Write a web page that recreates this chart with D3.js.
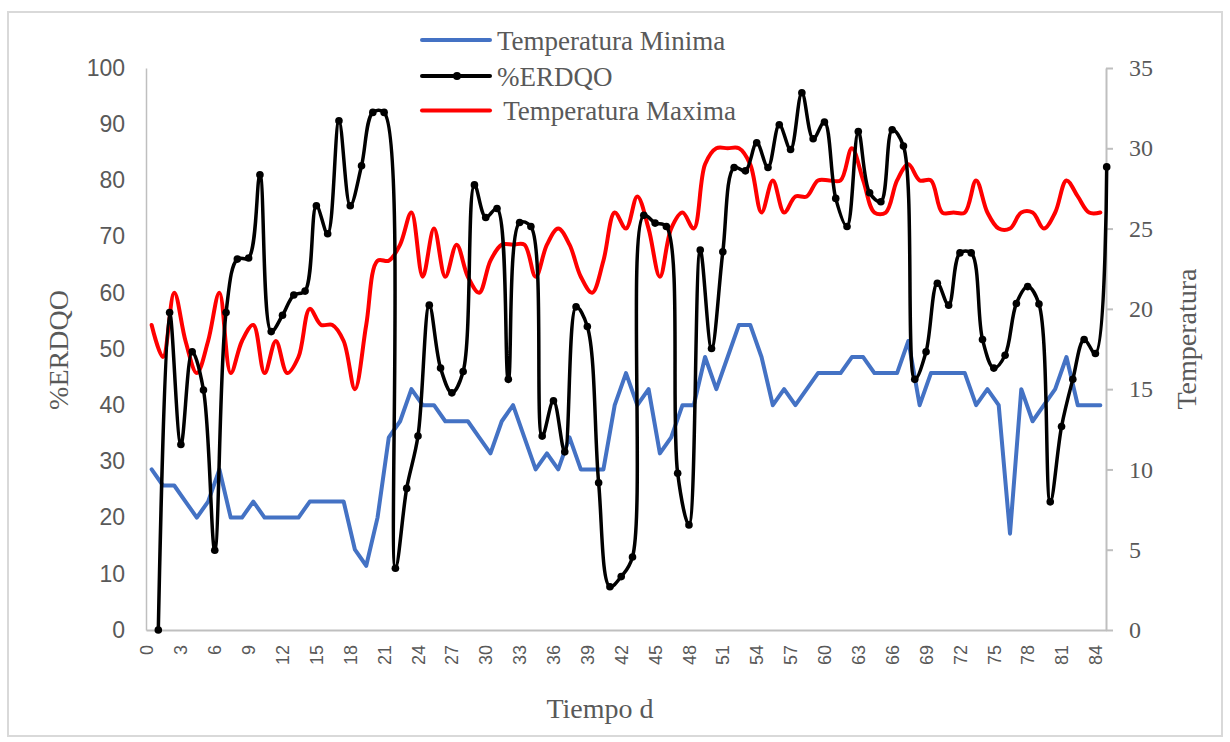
<!DOCTYPE html>
<html><head><meta charset="utf-8">
<script src="https://cdn.jsdelivr.net/npm/d3@7"></script>
<style>body{margin:0;background:#fff} svg{display:block}</style>
</head><body>
<svg id="c" width="1230" height="742"></svg>
<script>
const days = [0,1,2,3,4,5,6,7,8,9,10,11,12,13,14,15,16,17,18,19,20,21,22,23,24,25,26,27,28,29,30,31,32,33,34,35,36,37,38,39,40,41,42,43,44,45,46,47,48,49,50,51,52,53,54,55,56,57,58,59,60,61,62,63,64,65,66,67,68,69,70,71,72,73,74,75,76,77,78,79,80,81,82,83,84];
const xTickDays = [0,3,6,9,12,15,18,21,24,27,30,33,36,39,42,45,48,51,54,57,60,63,66,69,72,75,78,81,84];
const leftTicks = [0,10,20,30,40,50,60,70,80,90,100];
const rightTicks = [0,5,10,15,20,25,30,35];

const tempMin = [10,9,9,8,7,8,10,7,7,8, 7,7,7,7,8,8,8,8,5,4, 7,12,13,15,14,14,13,13,13,12, 11,13,14,12,10,11,10,12,10,10, 10,14,16,14,15,11,12,14,14,17, 15,17,19,19,17,14,15,14,15,16, 16,16,17,17,16,16,16,18,14,16, 16,16,16,14,15,14,6,15,13,14, 15,17,14,14,14];
const tempMax = [19,17,21,18,16,18,21,16,18,19, 16,18,16,17,20,19,19,18,15,19, 23,23,24,26,22,25,22,24,22,21, 23,24,24,24,22,24,25,24,22,21, 23,26,25,27,25,22,25,26,25,29, 30,30,30,29,26,28,26,27,27,28, 28,28,30,28,26,26,28,29,28,28, 26,26,26,28,26,25,25,26,26,25, 26,28,27,26,26];
const erdqo = [0,56.5,33,49.5,42.7,14.2,56.5,66,66.2,81, 53.1,56,59.6,60.3,75.5,70.5,90.6,75.5,82.6,92.1, 92.1,11,25.2,34.5,57.8,46.6,42.2,46,79.2,73.4, 75,44.6,72.5,71.8,34.5,40.8,31.7,57.5,54,26.2, 7.7,9.5,13,73.8,72.4,71.8,27.9,18.7,67.6,50.1, 67.3,82.3,81.7,86.7,82.3,89.9,85.5,95.6,87.4,90.4, 76.8,71.8,88.7,77.8,76.2,89,86.1,44.6,49.5,61.7, 57.8,67.1,67.1,51.7,46.6,48.9,58.1,61.1,58,22.8, 36.2,44.6,51.7,49.2,82.4];

const seriesNames = ["Temperatura Minima", "%ERDQO", " Temperatura Maxima"];
const colors = {min:"#4472C4", erd:"#000000", max:"#FF0000"};
const SERIF = "'Liberation Serif','Times New Roman',serif";
const SANS = "'Liberation Sans',Arial,sans-serif";
const GREY = "#595959", AXIS = "#bfbfbf";

const svg = d3.select("#c");
const plot = {l:146, r:1106, t:68, b:630};

svg.append("rect").attr("x",8).attr("y",12).attr("width",1214).attr("height",724)
  .attr("fill","none").attr("stroke","#d9d9d9").attr("stroke-width",2);

const x = d3.scaleBand().domain(days).range([plot.l, plot.r]);
const xc = d => x(d) + x.bandwidth()/2;
const xErd = d3.scaleLinear().domain([days[0], days[days.length-1]])
  .range([plot.l + x.bandwidth()*1.09, plot.r + 0.7]);
const yL = d3.scaleLinear().domain([0,100]).range([plot.b, plot.t]);
const yR = d3.scaleLinear().domain([0,35]).range([plot.b, plot.t]);

// Left axis
const gL = svg.append("g").attr("transform",`translate(${plot.l},0)`)
  .call(d3.axisLeft(yL).tickValues(leftTicks).tickSize(0).tickSizeOuter(0).tickPadding(21));
gL.select(".domain").attr("stroke",AXIS).attr("stroke-width",1.5);
gL.selectAll("text").attr("font-family",SANS).attr("font-size",23).attr("fill",GREY);

// Right axis
const gR = svg.append("g").attr("transform",`translate(${plot.r},0)`)
  .call(d3.axisRight(yR).tickValues(rightTicks).tickSize(7).tickSizeOuter(0).tickPadding(16));
gR.select(".domain").attr("stroke",AXIS).attr("stroke-width",2);
gR.selectAll(".tick line").attr("stroke",AXIS).attr("stroke-width",2);
gR.selectAll("text").attr("font-family",SERIF).attr("font-size",24).attr("fill",GREY);

// Bottom axis
const gB = svg.append("g").attr("transform",`translate(0,${plot.b})`)
  .call(d3.axisBottom(x).tickValues(xTickDays).tickSize(0).tickSizeOuter(0));
gB.select(".domain").attr("stroke",AXIS).attr("stroke-width",2);
gB.selectAll("text")
  .attr("font-family",SANS).attr("font-size",18).attr("fill",GREY)
  .attr("transform","translate(-4.5,0) rotate(-90)")
  .attr("x",-15).attr("y",0).attr("dy","0.35em").attr("text-anchor","end");

// Axis titles
svg.append("text").attr("transform","translate(68,350) rotate(-90)")
  .attr("text-anchor","middle").attr("font-family",SERIF).attr("font-size",28).attr("fill",GREY)
  .text("%ERDQO");
svg.append("text").attr("transform","translate(1196,339) rotate(-90)")
  .attr("text-anchor","middle").attr("font-family",SERIF).attr("font-size",28).attr("fill",GREY)
  .text("Temperatura");
svg.append("text").attr("x",600).attr("y",718)
  .attr("text-anchor","middle").attr("font-family",SERIF).attr("font-size",28).attr("fill",GREY)
  .text("Tiempo d");

// Series
const lineMin = d3.line().x((d,i)=>xc(days[i])).y(d=>yR(d));
const lineMax = d3.line().x((d,i)=>xc(days[i])).y(d=>yR(d)).curve(d3.curveCatmullRom.alpha(0.5));
const lineErd = d3.line().x((d,i)=>xErd(days[i])).y(d=>yL(d)).curve(d3.curveCatmullRom.alpha(0.5));

svg.append("path").datum(tempMin).attr("d",lineMin).attr("fill","none")
  .attr("stroke",colors.min).attr("stroke-width",4).attr("stroke-linejoin","round").attr("stroke-linecap","round");
svg.append("path").datum(tempMax).attr("d",lineMax).attr("fill","none")
  .attr("stroke",colors.max).attr("stroke-width",4).attr("stroke-linejoin","round").attr("stroke-linecap","round");
svg.append("path").datum(erdqo).attr("d",lineErd).attr("fill","none")
  .attr("stroke",colors.erd).attr("stroke-width",3.5).attr("stroke-linejoin","round");
svg.append("g").selectAll("circle").data(erdqo).join("circle")
  .attr("cx",(d,i)=>xErd(days[i])).attr("cy",d=>yL(d)).attr("r",3.8).attr("fill",colors.erd);

// Legend
const legend = [
  {name:seriesNames[0], color:colors.min, y:40, marker:false, tx:497},
  {name:seriesNames[1], color:colors.erd, y:76, marker:true, tx:497},
  {name:seriesNames[2], color:colors.max, y:110.5, marker:false, tx:497}
];
const lg = svg.append("g");
legend.forEach(e=>{
  lg.append("line").attr("x1",422).attr("x2",490).attr("y1",e.y).attr("y2",e.y)
    .attr("stroke",e.color).attr("stroke-width",4).attr("stroke-linecap","round");
  if(e.marker) lg.append("circle").attr("cx",457).attr("cy",e.y).attr("r",4).attr("fill",e.color);
  lg.append("text").attr("x",e.tx).attr("y",e.y+9.5).attr("font-family",SERIF).attr("font-size",27)
    .attr("fill",GREY).style("white-space","pre").text(e.name);
});
</script>
</body></html>
